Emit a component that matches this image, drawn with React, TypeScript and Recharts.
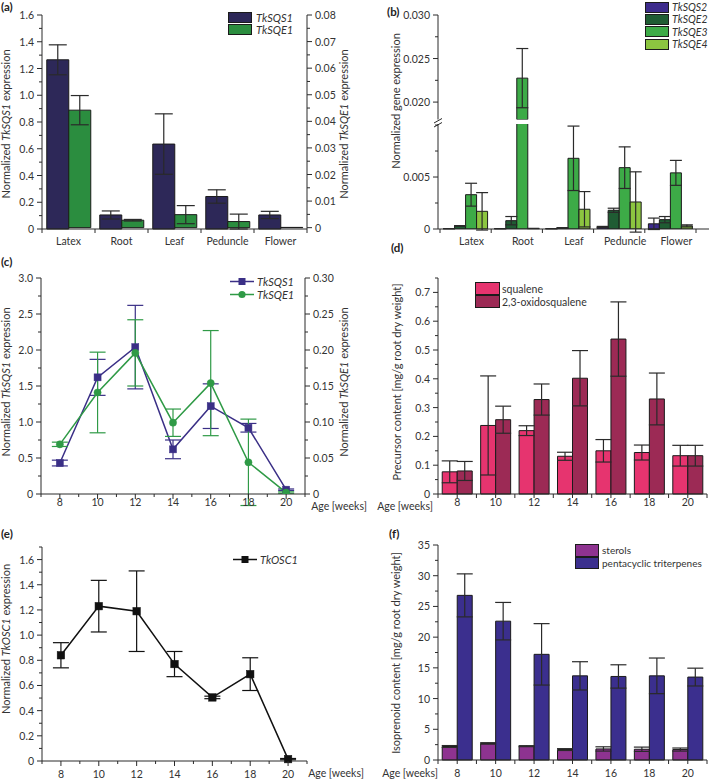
import React from 'react';
import { BarChart, Bar, Cell, LineChart, Line, XAxis, YAxis, ErrorBar, Legend, Label } from 'recharts';

const FONT = "Lato, 'Open Sans', 'DejaVu Sans', sans-serif";
const AX = '#2a2a2a';
const TXT = '#333333';
const EDGE = '#1b1b1b';
const TICK_FS = 10.5;

// (a) tissue expression, TkSQS1 (left axis) and TkSQE1 (right axis)
const tissues = ['Latex', 'Root', 'Leaf', 'Peduncle', 'Flower'];
const sqs1Tissue = [1.265, 0.105, 0.635, 0.243, 0.105];
const sqs1TissueErr = [0.112, 0.03, 0.226, 0.05, 0.027];
const sqe1Tissue = [0.0442, 0.0028, 0.0049, 0.0023, 0.0001];
const sqe1TissueErr = [0.0055, 0.0003, 0.0034, 0.0028, 0];
const aLeftTicks = [0, 0.1, 0.2, 0.3, 0.4, 0.5, 0.6, 0.7, 0.8, 0.9, 1.0, 1.1, 1.2, 1.3, 1.4, 1.5, 1.6];
const aLeftLabels = [0, 0.2, 0.4, 0.6, 0.8, 1.0, 1.2, 1.4, 1.6];
const aRightTicks = [0, 0.005, 0.01, 0.015, 0.02, 0.025, 0.03, 0.035, 0.04, 0.045, 0.05, 0.055, 0.06, 0.065, 0.07, 0.075, 0.08];
const aRightLabels = [0, 0.01, 0.02, 0.03, 0.04, 0.05, 0.06, 0.07, 0.08];

// (b) tissue expression of the other genes (broken axis)
const sqs2Tissue = [0.00003, 0.00003, 0.00003, 0.0002, 0.0005];
const sqs2TissueErr = [0.00001, 0.00001, 0.00001, 0.00005, 0.00055];
const sqe2Tissue = [0.0003, 0.0008, 0.0001, 0.0018, 0.0009];
const sqe2TissueErr = [0.00003, 0.0004, 0.00003, 0.0002, 0.0003];
const sqe3Tissue = [0.0033, 0.02275, 0.0068, 0.0059, 0.0054];
const sqe3TissueErr = [0.0011, 0.0034, 0.0031, 0.002, 0.0012];
const sqe4Tissue = [0.0017, 0.00005, 0.0019, 0.0026, 0.0003];
const sqe4TissueErr = [0.0018, 0.00001, 0.0017, 0.0029, 0.0001];
const bUpperDomain = [0.018, 0.03];
const bLowerDomain = [0, 0.0101];
const bUpperTicks = [0.02, 0.0225, 0.025, 0.0275, 0.03];
const bUpperLabels = [0.02, 0.025, 0.03];
const bLowerTicks = [0, 0.0025, 0.005, 0.0075, 0.01];
const bLowerLabels = [0, 0.005];

// (c) expression over plant age
const weeks = [8, 10, 12, 14, 16, 18, 20];
const sqs1Age = [0.43, 1.62, 2.04, 0.62, 1.22, 0.92, 0.06];
const sqs1AgeErr = [0.04, 0.25, 0.58, 0.13, 0.31, 0.06, 0.01];
const sqe1Age = [0.069, 0.141, 0.196, 0.099, 0.154, 0.044, 0.002];
const sqe1AgeErr = [0.003, 0.056, 0.046, 0.019, 0.073, 0.06, 0.001];
const weekTicks = [7, 8, 9, 10, 11, 12, 13, 14, 15, 16, 17, 18, 19, 20, 21];
const weekLabels = [8, 10, 12, 14, 16, 18, 20];
const cLeftTicks = [0, 0.25, 0.5, 0.75, 1.0, 1.25, 1.5, 1.75, 2.0, 2.25, 2.5, 2.75, 3.0];
const cLeftLabels = [0, 0.5, 1.0, 1.5, 2.0, 2.5, 3.0];
const cRightTicks = [0, 0.025, 0.05, 0.075, 0.1, 0.125, 0.15, 0.175, 0.2, 0.225, 0.25, 0.275, 0.3];
const cRightLabels = [0, 0.05, 0.1, 0.15, 0.2, 0.25, 0.3];

// (d) precursor content
const ageCats = ['8', '10', '12', '14', '16', '18', '20'];
const squalene = [0.077, 0.238, 0.22, 0.131, 0.15, 0.144, 0.133];
const squaleneErr = [0.038, 0.172, 0.017, 0.014, 0.039, 0.026, 0.036];
const oxidosqualene = [0.08, 0.258, 0.328, 0.402, 0.538, 0.33, 0.133];
const oxidosqualeneErr = [0.033, 0.047, 0.054, 0.096, 0.129, 0.09, 0.036];
const dTicks = [0, 0.05, 0.1, 0.15, 0.2, 0.25, 0.3, 0.35, 0.4, 0.45, 0.5, 0.55, 0.6, 0.65, 0.7, 0.75];
const dLabels = [0, 0.1, 0.2, 0.3, 0.4, 0.5, 0.6, 0.7];

// (e) TkOSC1 over plant age
const osc1Age = [0.84, 1.23, 1.19, 0.77, 0.505, 0.69, 0.015];
const osc1AgeErr = [0.1, 0.205, 0.32, 0.1, 0.01, 0.13, 0.005];
const eTicks = [0, 0.1, 0.2, 0.3, 0.4, 0.5, 0.6, 0.7, 0.8, 0.9, 1.0, 1.1, 1.2, 1.3, 1.4, 1.5, 1.6, 1.7];
const eLabels = [0, 0.2, 0.4, 0.6, 0.8, 1.0, 1.2, 1.4, 1.6];

// (f) isoprenoid content
const sterols = [2.2, 2.7, 2.25, 1.7, 1.8, 1.75, 1.7];
const sterolsErr = [0.15, 0.12, 0.08, 0.15, 0.35, 0.35, 0.25];
const triterpenes = [26.8, 22.6, 17.2, 13.7, 13.6, 13.7, 13.5];
const triterpenesErr = [3.5, 3.05, 5.0, 2.3, 1.9, 2.9, 1.45];
const fTicks = [0, 2.5, 5, 7.5, 10, 12.5, 15, 17.5, 20, 22.5, 25, 27.5, 30, 32.5, 35];
const fLabels = [0, 5, 10, 15, 20, 25, 30, 35];

const dataA = tissues.map((t, i) => ({
  tissue: t, sqs1: sqs1Tissue[i], sqs1Err: sqs1TissueErr[i], sqe1: sqe1Tissue[i], sqe1Err: sqe1TissueErr[i],
}));
const dataB: any[] = tissues.map((t, i) => ({
  tissue: t,
  sqs2: sqs2Tissue[i], sqs2Err: sqs2TissueErr[i],
  sqe2: sqe2Tissue[i], sqe2Err: sqe2TissueErr[i],
  sqe3: sqe3Tissue[i], sqe3Err: sqe3TissueErr[i],
  sqe4: sqe4Tissue[i], sqe4Err: sqe4TissueErr[i],
}));
const dataC = weeks.map((w, i) => ({
  week: w, sqs1: sqs1Age[i], sqs1Err: sqs1AgeErr[i], sqe1: sqe1Age[i], sqe1Err: sqe1AgeErr[i],
}));
const dataD = ageCats.map((a, i) => ({
  age: a, sq: squalene[i], sqErr: squaleneErr[i], ox: oxidosqualene[i], oxErr: oxidosqualeneErr[i],
}));
const dataE = weeks.map((w, i) => ({ week: w, osc1: osc1Age[i], osc1Err: osc1AgeErr[i] }));
const dataF = ageCats.map((a, i) => ({
  age: a, st: sterols[i], stErr: sterolsErr[i], pt: triterpenes[i], ptErr: triterpenesErr[i],
}));

const has = (list: number[], v: number) => list.some((l) => Math.abs(l - v) < 1e-9);
const fmt = (v: number, d: number) => (v === 0 ? '0' : v.toFixed(d));

function YTick(props: any) {
  const { x, y, payload, side, labels, digits } = props;
  const major = has(labels, payload.value);
  const dir = side === 'left' ? -1 : 1;
  const len = major ? 5 : 3;
  return (
    <g>
      <line x1={x} y1={y} x2={x + dir * len} y2={y} stroke={AX} strokeWidth={1} />
      {major && (
        <text x={x + dir * (len + 3)} y={y} dy={4} textAnchor={side === 'left' ? 'end' : 'start'} fontSize={TICK_FS} fill={TXT}>
          {fmt(payload.value, digits)}
        </text>
      )}
    </g>
  );
}

function NumXTick(props: any) {
  const { x, y, payload, labels, dy } = props;
  const major = has(labels, payload.value);
  return (
    <g>
      <line x1={x} y1={y} x2={x} y2={y + (major ? 5 : 3)} stroke={AX} strokeWidth={1} />
      {major && (
        <text x={x} y={y + dy} textAnchor="middle" fontSize={TICK_FS} fill={TXT}>{payload.value}</text>
      )}
    </g>
  );
}

function CatTick(props: any) {
  const { x, y, payload, index, bw, n, mid, dy, dx = 0 } = props;
  return (
    <g>
      <line x1={x - bw / 2} y1={y} x2={x - bw / 2} y2={y + 4} stroke={AX} />
      {index === n - 1 && <line x1={x + bw / 2} y1={y} x2={x + bw / 2} y2={y + 4} stroke={AX} />}
      {mid && <line x1={x} y1={y} x2={x} y2={y + 4} stroke={AX} />}
      <text x={x + dx} y={y + dy} textAnchor="middle" fontSize={TICK_FS} fill={TXT}>{payload.value}</text>
    </g>
  );
}

function VTitle({ x, y, parts }: { x: number; y: number; parts: [string, boolean][] }) {
  return (
    <text x={x} y={y} transform={`rotate(-90 ${x} ${y})`} textAnchor="middle" fontSize={11} fill={TXT} fontFamily={FONT}>
      {parts.map(([s, it], i) => (
        <tspan key={i} fontStyle={it ? 'italic' : 'normal'}>{s}</tspan>
      ))}
    </text>
  );
}

function AgeTitle({ x, y }: { x: number; y: number }) {
  return (
    <text x={x} y={y} textAnchor="middle" fontSize={TICK_FS} fill={TXT} fontFamily={FONT}>Age [weeks]</text>
  );
}

type BoxItem = { label: string; color: string; italic?: boolean };

function BoxLegend({ items, boxW, boxH, rowH, gap, fs = 11 }: { items: BoxItem[]; boxW: number; boxH: number; rowH: number; gap: number; fs?: number }) {
  return (
    <div style={{ fontFamily: FONT, fontSize: fs, color: TXT }}>
      {items.map((it) => (
        <div key={it.label} style={{ display: 'flex', alignItems: 'center', height: rowH, whiteSpace: 'nowrap' }}>
          <span style={{ display: 'inline-block', width: boxW, height: boxH, background: it.color, border: `1px solid ${EDGE}`, boxSizing: 'border-box', marginRight: gap }} />
          <span style={{ fontStyle: it.italic ? 'italic' : 'normal' }}>{it.label}</span>
        </div>
      ))}
    </div>
  );
}

type LineItem = { label: string; color: string; marker: 'square' | 'circle' };

function LineLegend({ items, rowH }: { items: LineItem[]; rowH: number }) {
  return (
    <div style={{ fontFamily: FONT, fontSize: 11, color: TXT }}>
      {items.map((it) => (
        <div key={it.label} style={{ display: 'flex', alignItems: 'center', height: rowH, whiteSpace: 'nowrap' }}>
          <svg width={24} height={rowH} style={{ marginRight: 3 }}>
            <line x1={0} y1={rowH / 2} x2={24} y2={rowH / 2} stroke={it.color} strokeWidth={1.5} />
            {it.marker === 'square' ? (
              <rect x={8.5} y={rowH / 2 - 3.5} width={7} height={7} fill={it.color} />
            ) : (
              <circle cx={12} cy={rowH / 2} r={3.6} fill={it.color} />
            )}
          </svg>
          <span style={{ fontStyle: 'italic' }}>{it.label}</span>
        </div>
      ))}
    </div>
  );
}

const squareDot = (color: string, s: number) => (p: any) => (
  <rect key={`sq-${p.index}`} x={p.cx - s / 2} y={p.cy - s / 2} width={s} height={s} fill={color} stroke={color} strokeWidth={0.5} />
);
const circleDot = (color: string, r: number) => (p: any) => (
  <circle key={`ci-${p.index}`} cx={p.cx} cy={p.cy} r={r} fill={color} stroke={color} strokeWidth={0.5} />
);

const NAVY_A = '#2d2858';
const GREEN_A = '#2b8d3f';
const SQS2_C = '#3d2b8c';
const SQE2_C = '#1f5c33';
const SQE3_C = '#3dab47';
const SQE4_C = '#8cc540';
const NAVY_L = '#3a2f86';
const GREEN_L = '#2f9a46';
const PINK = '#e6346f';
const MAROON = '#9c2a55';
const PURPLE = '#8e3390';
const VIOLET = '#3b2f8e';

const axisLine = { stroke: AX, strokeWidth: 1 };
const panelLetter = (txt: string, left: number, top: number) => (
  <div style={{ position: 'absolute', left, top, lineHeight: '13px', fontFamily: FONT, fontWeight: 700, fontSize: 11.5, color: '#222' }}>{txt}</div>
);

function PanelA() {
  return (
    <div style={{ position: 'absolute', left: 0, top: 0 }}>
      <BarChart width={360} height={255} data={dataA} margin={{ top: 15, right: 0, bottom: 6, left: 0 }} barCategoryGap="9%" barGap={0}>
        <XAxis dataKey="tissue" height={20} interval={0} tickSize={0} tickMargin={0} axisLine={axisLine}
          tick={(p: any) => <CatTick {...p} bw={265 / 5} n={5} dy={16} />} />
        <YAxis yAxisId="l" width={42} domain={[0, 1.6]} ticks={aLeftTicks} interval={0} tickSize={0} tickMargin={0} axisLine={axisLine}
          tick={(p: any) => <YTick {...p} side="left" labels={aLeftLabels} digits={1} />}>
          <Label content={() => <VTitle x={10} y={124} parts={[['Normalized ', false], ['TkSQS1', true], [' expression', false]]} />} />
        </YAxis>
        <YAxis yAxisId="r" orientation="right" width={53} domain={[0, 0.08]} ticks={aRightTicks} interval={0} tickSize={0} tickMargin={0} axisLine={axisLine}
          tick={(p: any) => <YTick {...p} side="right" labels={aRightLabels} digits={2} />}>
          <Label content={() => <VTitle x={348} y={124} parts={[['Normalized ', false], ['TkSQE1', true], [' expression', false]]} />} />
        </YAxis>
        <Bar yAxisId="l" dataKey="sqs1" fill={NAVY_A} stroke={EDGE} strokeWidth={1} isAnimationActive={false}>
          <ErrorBar dataKey="sqs1Err" width={9} stroke={AX} strokeWidth={1.2} />
        </Bar>
        <Bar yAxisId="r" dataKey="sqe1" fill={GREEN_A} stroke={EDGE} strokeWidth={1} isAnimationActive={false}>
          <ErrorBar dataKey="sqe1Err" width={9} stroke={AX} strokeWidth={1.2} />
        </Bar>
        <Legend verticalAlign="middle" wrapperStyle={{ left: 228, top: 11, width: 'auto' }}
          content={() => <BoxLegend items={[{ label: 'TkSQS1', color: NAVY_A, italic: true }, { label: 'TkSQE1', color: GREEN_A, italic: true }]} boxW={24} boxH={11} rowH={12} gap={4} />} />
      </BarChart>
    </div>
  );
}

const bSeries: [string, string][] = [
  ['sqs2', SQS2_C],
  ['sqe2', SQE2_C],
  ['sqe3', SQE3_C],
  ['sqe4', SQE4_C],
];

function PanelB() {
  return (
    <>
      <div style={{ position: 'absolute', left: 355, top: 0 }}>
        <BarChart width={354} height={122} data={dataB} margin={{ top: 15, right: 0, bottom: 2.5, left: 0 }} barCategoryGap="7%" barGap={0}>
          <XAxis dataKey="tissue" hide padding={{ left: 2, right: 13 }} />
          <YAxis width={83} domain={bUpperDomain} allowDataOverflow ticks={bUpperTicks} interval={0} tickSize={0} tickMargin={0} axisLine={axisLine}
            tick={(p: any) => <YTick {...p} side="left" labels={bUpperLabels} digits={3} />} />
          {bSeries.map(([k, c]) => (
            <Bar key={k} dataKey={k} fill={c} stroke={EDGE} strokeWidth={1} isAnimationActive={false}>
              {dataB.map((d, i) => {
                const above = d[k] >= bUpperDomain[0];
                return <Cell key={i} fill={above ? c : 'none'} stroke={above ? EDGE : 'none'} />;
              })}
              <ErrorBar dataKey={`${k}Err`} width={6} stroke={AX} strokeWidth={1.2} />
            </Bar>
          ))}
          <Legend verticalAlign="middle" wrapperStyle={{ left: 290, top: 1, width: 'auto' }}
            content={() => (
              <BoxLegend
                items={[
                  { label: 'TkSQS2', color: SQS2_C, italic: true },
                  { label: 'TkSQE2', color: SQE2_C, italic: true },
                  { label: 'TkSQE3', color: SQE3_C, italic: true },
                  { label: 'TkSQE4', color: SQE4_C, italic: true },
                ]}
                boxW={24} boxH={11} rowH={12.3} gap={3} fs={10.5}
              />
            )} />
        </BarChart>
      </div>
      <div style={{ position: 'absolute', left: 355, top: 121 }}>
        <BarChart width={354} height={134} data={dataB} margin={{ top: 3, right: 0, bottom: 6, left: 0 }} barCategoryGap="7%" barGap={0}>
          <XAxis dataKey="tissue" height={20} interval={0} tickSize={0} tickMargin={0} axisLine={axisLine} padding={{ left: 2, right: 13 }}
            tick={(p: any) => <CatTick {...p} bw={256 / 5} n={5} dy={16} dx={6} />} />
          <YAxis width={83} domain={bLowerDomain} allowDataOverflow ticks={bLowerTicks} interval={0} tickSize={0} tickMargin={0} axisLine={axisLine}
            tick={(p: any) => <YTick {...p} side="left" labels={bLowerLabels} digits={3} />} />
          {bSeries.map(([k, c]) => (
            <Bar key={k} dataKey={k} fill={c} stroke={EDGE} strokeWidth={1} isAnimationActive={false}>
              <ErrorBar dataKey={`${k}Err`} width={6} stroke={AX} strokeWidth={1.2} />
            </Bar>
          ))}
        </BarChart>
      </div>
      <svg style={{ position: 'absolute', left: 355, top: 0 }} width={100} height={240}>
        <VTitle x={45} y={101} parts={[['Normalized gene expression', false]]} />
        <line x1={79} y1={123} x2={87} y2={118.5} stroke={AX} strokeWidth={1} />
        <line x1={79} y1={127} x2={87} y2={122.5} stroke={AX} strokeWidth={1} />
      </svg>
    </>
  );
}

function PanelC() {
  return (
    <div style={{ position: 'absolute', left: 0, top: 265 }}>
      <LineChart width={370} height={250} data={dataC} margin={{ top: 13, right: 10, bottom: 1, left: 0 }}>
        <XAxis type="number" dataKey="week" domain={[7, 21]} ticks={weekTicks} interval={0} height={20} tickSize={0} tickMargin={0} axisLine={axisLine}
          tick={(p: any) => <NumXTick {...p} labels={weekLabels} dy={12} />}>
          <Label content={() => <AgeTitle x={339} y={245} />} />
        </XAxis>
        <YAxis yAxisId="l" width={41} domain={[0, 3]} allowDataOverflow ticks={cLeftTicks} interval={0} tickSize={0} tickMargin={0} axisLine={axisLine}
          tick={(p: any) => <YTick {...p} side="left" labels={cLeftLabels} digits={1} />}>
          <Label content={() => <VTitle x={10} y={117} parts={[['Normalized ', false], ['TkSQS1', true], [' expression', false]]} />} />
        </YAxis>
        <YAxis yAxisId="r" orientation="right" width={55} domain={[0, 0.3]} allowDataOverflow ticks={cRightTicks} interval={0} tickSize={0} tickMargin={0} axisLine={axisLine}
          tick={(p: any) => <YTick {...p} side="right" labels={cRightLabels} digits={2} />}>
          <Label content={() => <VTitle x={348} y={117} parts={[['Normalized ', false], ['TkSQE1', true], [' expression', false]]} />} />
        </YAxis>
        <Line yAxisId="l" dataKey="sqs1" stroke={NAVY_L} strokeWidth={1.5} dot={squareDot(NAVY_L, 7)} isAnimationActive={false}>
          <ErrorBar dataKey="sqs1Err" width={8} stroke={NAVY_L} strokeWidth={1.2} />
        </Line>
        <Line yAxisId="r" dataKey="sqe1" stroke={GREEN_L} strokeWidth={1.5} dot={circleDot(GREEN_L, 3.6)} isAnimationActive={false}>
          <ErrorBar dataKey="sqe1Err" width={8} stroke={GREEN_L} strokeWidth={1.2} />
        </Line>
        <Legend verticalAlign="middle" wrapperStyle={{ left: 230, top: 9.5, width: 'auto' }}
          content={() => <LineLegend rowH={13} items={[{ label: 'TkSQS1', color: NAVY_L, marker: 'square' }, { label: 'TkSQE1', color: GREEN_L, marker: 'circle' }]} />} />
      </LineChart>
    </div>
  );
}

function PanelD() {
  return (
    <div style={{ position: 'absolute', left: 355, top: 265 }}>
      <BarChart width={354} height={250} data={dataD} margin={{ top: 13, right: 2, bottom: 1, left: 0 }} barCategoryGap="11%" barGap={0}>
        <XAxis dataKey="age" height={20} interval={0} tickSize={0} tickMargin={0} axisLine={axisLine}
          tick={(p: any) => <CatTick {...p} bw={269 / 7} n={7} mid dy={12} />}>
          <Label content={() => <AgeTitle x={50} y={245} />} />
        </XAxis>
        <YAxis width={83} domain={[0, 0.75]} ticks={dTicks} interval={0} tickSize={0} tickMargin={0} axisLine={axisLine}
          tick={(p: any) => <YTick {...p} side="left" labels={dLabels} digits={1} />}>
          <Label content={() => <VTitle x={46} y={117} parts={[['Precursor content [mg/g root dry weight]', false]]} />} />
        </YAxis>
        <Bar dataKey="sq" fill={PINK} stroke={EDGE} strokeWidth={1} isAnimationActive={false}>
          <ErrorBar dataKey="sqErr" width={8} stroke={AX} strokeWidth={1.2} />
        </Bar>
        <Bar dataKey="ox" fill={MAROON} stroke={EDGE} strokeWidth={1} isAnimationActive={false}>
          <ErrorBar dataKey="oxErr" width={8} stroke={AX} strokeWidth={1.2} />
        </Bar>
        <Legend verticalAlign="middle" wrapperStyle={{ left: 120, top: 17, width: 'auto' }}
          content={() => <BoxLegend items={[{ label: 'squalene', color: PINK }, { label: '2,3-oxidosqualene', color: MAROON }]} boxW={25} boxH={13} rowH={13} gap={2} fs={10.5} />} />
      </BarChart>
    </div>
  );
}

function PanelE() {
  return (
    <div style={{ position: 'absolute', left: 0, top: 510 }}>
      <LineChart width={370} height={270} data={dataE} margin={{ top: 37, right: 63, bottom: 1, left: 0 }}>
        <XAxis type="number" dataKey="week" domain={[7, 21]} ticks={weekTicks} interval={0} height={18} tickSize={0} tickMargin={0} axisLine={axisLine}
          tick={(p: any) => <NumXTick {...p} labels={weekLabels} dy={17} />}>
          <Label content={() => <AgeTitle x={336} y={267} />} />
        </XAxis>
        <YAxis width={42} domain={[0, 1.7]} ticks={eTicks} interval={0} tickSize={0} tickMargin={0} axisLine={axisLine}
          tick={(p: any) => <YTick {...p} side="left" labels={eLabels} digits={1} />}>
          <Label content={() => <VTitle x={10} y={129} parts={[['Normalized ', false], ['TkOSC1', true], [' expression', false]]} />} />
        </YAxis>
        <Line dataKey="osc1" stroke="#111" strokeWidth={1.5} dot={squareDot('#111', 7.5)} isAnimationActive={false}>
          <ErrorBar dataKey="osc1Err" width={8} stroke="#111" strokeWidth={1.2} />
        </Line>
        <Legend verticalAlign="middle" wrapperStyle={{ left: 233, top: 43, width: 'auto' }}
          content={() => <LineLegend rowH={13} items={[{ label: 'TkOSC1', color: '#111', marker: 'square' }]} />} />
      </LineChart>
    </div>
  );
}

function PanelF() {
  return (
    <div style={{ position: 'absolute', left: 355, top: 510 }}>
      <BarChart width={354} height={270} data={dataF} margin={{ top: 35, right: 2, bottom: 2, left: 0 }} barCategoryGap="11%" barGap={0}>
        <XAxis dataKey="age" height={18} interval={0} tickSize={0} tickMargin={0} axisLine={axisLine}
          tick={(p: any) => <CatTick {...p} bw={269 / 7} n={7} mid dy={17} />}>
          <Label content={() => <AgeTitle x={55} y={267} />} />
        </XAxis>
        <YAxis width={83} domain={[0, 35]} ticks={fTicks} interval={0} tickSize={0} tickMargin={0} axisLine={axisLine}
          tick={(p: any) => <YTick {...p} side="left" labels={fLabels} digits={0} />}>
          <Label content={() => <VTitle x={45} y={143} parts={[['Isoprenoid content [mg/g root dry weight]', false]]} />} />
        </YAxis>
        <Bar dataKey="st" fill={PURPLE} stroke={EDGE} strokeWidth={1} isAnimationActive={false}>
          <ErrorBar dataKey="stErr" width={8} stroke={AX} strokeWidth={1.2} />
        </Bar>
        <Bar dataKey="pt" fill={VIOLET} stroke={EDGE} strokeWidth={1} isAnimationActive={false}>
          <ErrorBar dataKey="ptErr" width={8} stroke={AX} strokeWidth={1.2} />
        </Bar>
        <Legend verticalAlign="middle" wrapperStyle={{ left: 220, top: 34, width: 'auto' }}
          content={() => <BoxLegend items={[{ label: 'sterols', color: PURPLE }, { label: 'pentacyclic triterpenes', color: VIOLET }]} boxW={24} boxH={12.5} rowH={12.5} gap={3} fs={10} />} />
      </BarChart>
    </div>
  );
}

export default function App() {
  return (
    <div style={{ position: 'fixed', left: 0, top: 0, width: 709, height: 780, overflow: 'hidden', background: '#fff', fontFamily: FONT }}>
      <PanelA />
      <PanelB />
      <PanelC />
      <PanelD />
      <PanelE />
      <PanelF />
      {panelLetter('(a)', 1, 0)}
      {panelLetter('(b)', 387, 5)}
      {panelLetter('(c)', 1, 255)}
      {panelLetter('(d)', 391, 241)}
      {panelLetter('(e)', 1, 527)}
      {panelLetter('(f)', 389, 527)}
    </div>
  );
}
